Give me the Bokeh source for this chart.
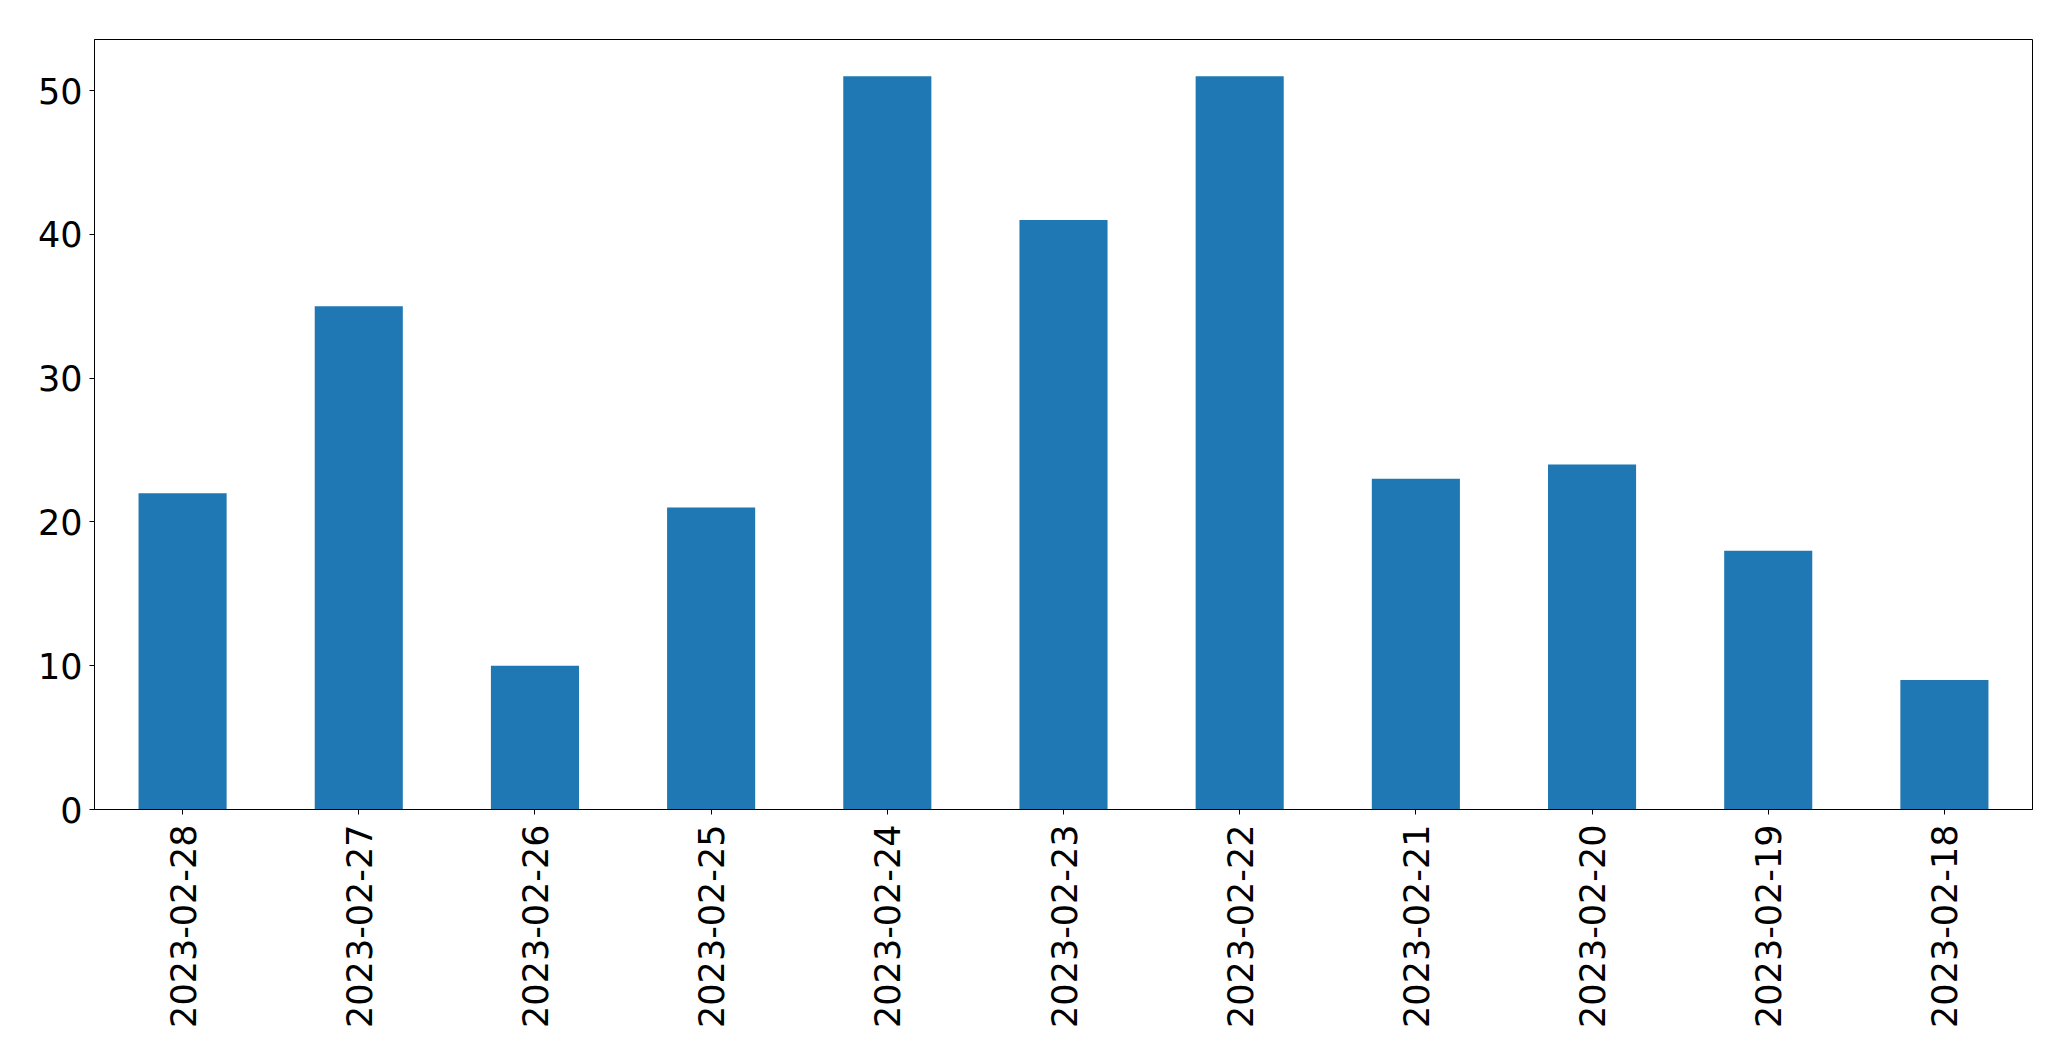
import math
from bokeh.plotting import figure
from bokeh.models import FactorRange, Range1d, FixedTicker
from bokeh.embed import file_html
from bokeh.resources import INLINE

dates = ["2023-02-28", "2023-02-27", "2023-02-26", "2023-02-25", "2023-02-24",
         "2023-02-23", "2023-02-22", "2023-02-21", "2023-02-20", "2023-02-19",
         "2023-02-18"]
counts = [22, 35, 10, 21, 51, 41, 51, 23, 24, 18, 9]
y_ticks = [0, 10, 20, 30, 40, 50]

p = figure(width=2071, height=1061, output_backend="svg", toolbar_location=None,
           x_range=FactorRange(factors=dates, range_padding=0),
           y_range=Range1d(0, max(counts) * 1.05),
           min_border_left=94, min_border_top=39, min_border_right=39,
           min_border_bottom=252)

p.vbar(x=dates, top=counts, width=0.5, fill_color="#1f77b4", line_color=None)

p.xgrid.visible = False
p.ygrid.visible = False
p.outline_line_color = "black"
p.outline_line_width = 1
p.outline_line_alpha = 1

for ax in (p.xaxis[0], p.yaxis[0]):
    ax.axis_line_color = "black"
    ax.major_tick_line_color = "black"
    ax.major_tick_in = 0
    ax.major_tick_out = 5
    ax.minor_tick_line_color = None
    ax.major_label_text_font = "DejaVu Sans"
    ax.major_label_text_font_size = "35px"
    ax.major_label_text_color = "black"

p.yaxis[0].ticker = FixedTicker(ticks=y_ticks)
p.yaxis[0].major_label_standoff = 7
p.xaxis[0].major_label_orientation = math.pi / 2
p.xaxis[0].major_label_standoff = 10

open("out.html", "w").write(file_html(p, INLINE))
